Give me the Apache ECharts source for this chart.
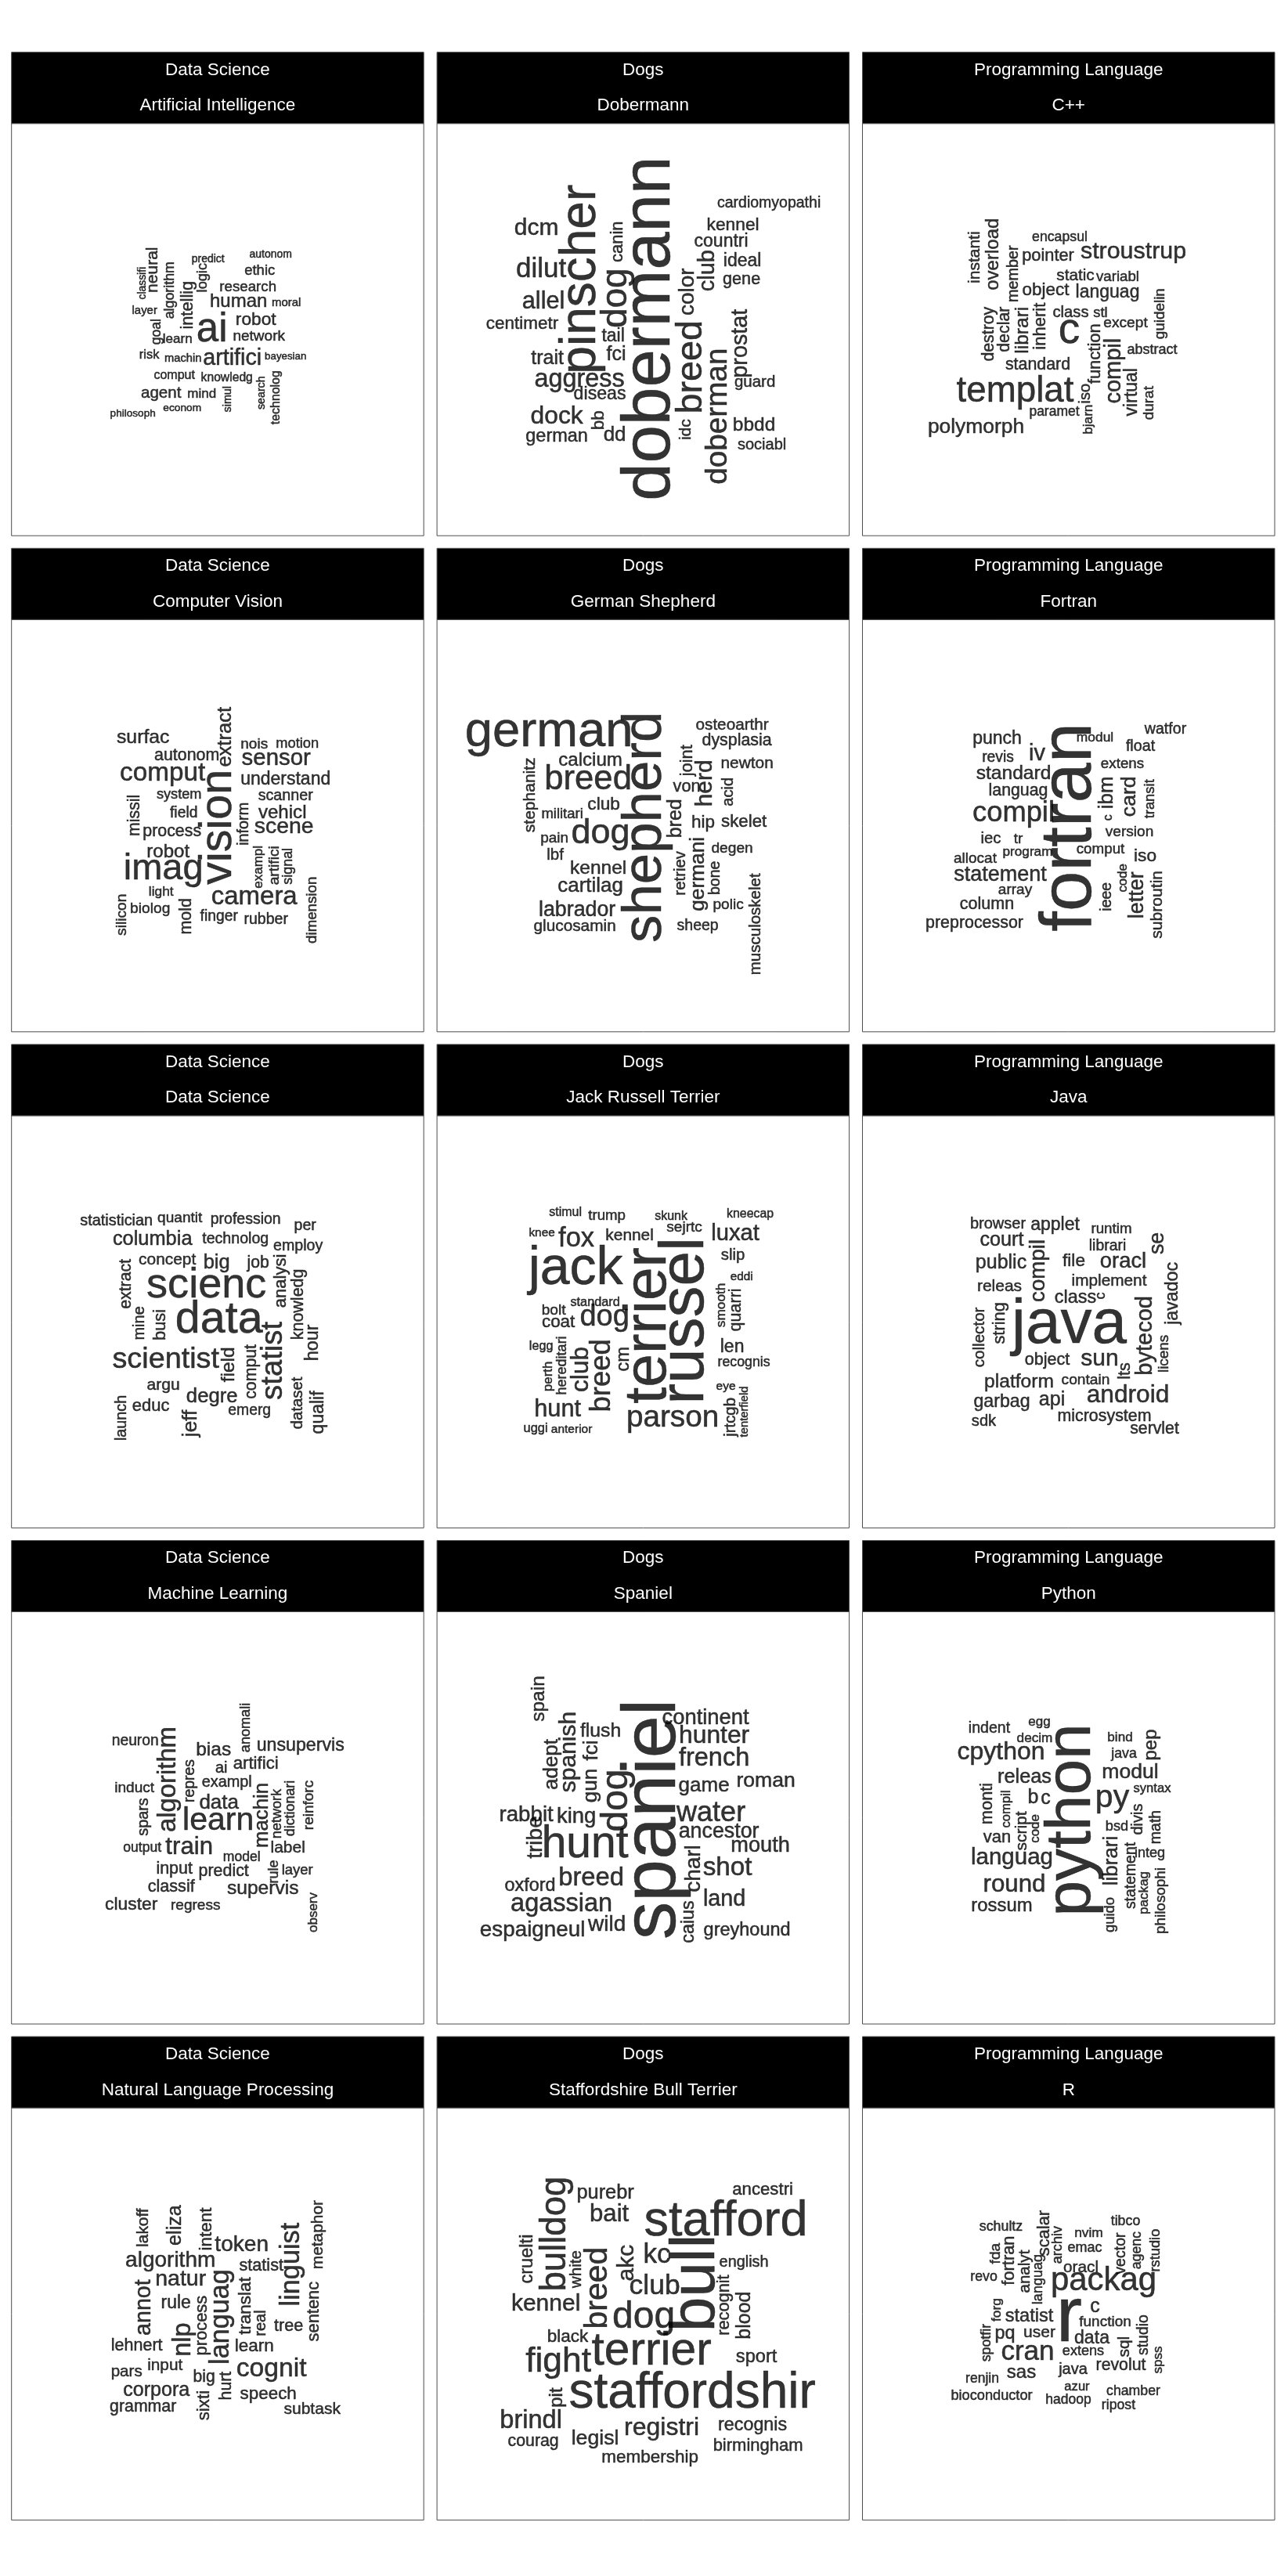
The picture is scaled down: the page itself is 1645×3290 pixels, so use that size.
<!DOCTYPE html>
<html><head><meta charset="utf-8">
<script src="https://cdn.jsdelivr.net/npm/echarts@6.0.0/dist/echarts.min.js"></script>
<style>html,body{margin:0;padding:0;background:#fff}#c{width:1645px;height:3290px}</style>
</head><body><div id="c"></div>
<script>
// Facet labels
const topics = ['Data Science', 'Dogs', 'Programming Language'];
const subtopicsDS = ['Artificial Intelligence', 'Computer Vision', 'Data Science', 'Machine Learning', 'Natural Language Processing'];
const subtopicsDogs = ['Dobermann', 'German Shepherd', 'Jack Russell Terrier', 'Spaniel', 'Staffordshire Bull Terrier'];
const subtopicsPL = ['C++', 'Fortran', 'Java', 'Python', 'R'];

// Words: [term, x, y (panel units 0..526), freq (size), orientation (0 / 90)]
const wordsAI = [
['autonom',331,167,14,0],['predict',251,173,14,0],['ethic',317,188,18.5,0],['research',302,209,18.7,0],
['human',290,228,24,0],['moral',351,229,15,0],['robot',312,251,22.7,0],['network',316,272,19,0],
['ai',256,264,51,0],['artifici',282,300,28.7,0],['bayesian',350,298,13.3,0],['machin',219,300,14.7,0],
['risk',176,296,16.5,0],['learn',212,276,17,0],['goal',185,266,17.6,90],['layer',170,239,14.9,0],
['classifi',167,204,13.9,90],['neural',181,187,21,90],['algorithm',202,213,17.8,90],['intellig',225,232,21.8,90],
['logic',244,197,18.2,90],['comput',208,322,16,0],['knowledg',275,325,15.7,0],['agent',191,345,20.6,0],
['mind',243,346,17,0],['philosoph',155,371,13.6,0],['econom',218,364,13.7,0],['simul',276,352,14.3,90],
['search',319,344,14.2,90],['technolog',338,350,15.9,90]
];
const wordsDobermann = [
['dobermann',273,262,87,90],['pinscher',184,199,64,90],['cardiomyopathi',424,102,19.5,0],['kennel',378,130,22.8,0],
['countri',363,151,23,0],['dcm',127,134,30,0],['canin',231,151,22,90],['ideal',390,176,23,0],
['club',346,188,29,90],['gene',389,199,21.7,0],['dilut',133,187,35,0],['dog',229,223,46,90],
['color',320,215,28,90],['allel',136,228,30.7,0],['centimetr',109,256,22.5,0],['tail',225,272,23,0],
['breed',325,311,46.8,90],['fci',229,295,25,0],['trait',141,300,25,0],['prostat',388,281,28.8,90],
['aggress',182,327,32.4,0],['guard',406,331,20.5,0],['diseas',208,346,23.2,0],['doberman',359,374,38.7,90],
['dock',153,375,31.8,0],['bb',207,379,22.6,90],['idc',318,391,21,90],['dd',227,398,26,0],
['german',153,400,23.5,0],['bbdd',405,386,24.5,0],['sociabl',415,411,20,0]
];
const wordsCpp = [
['instanti',144,171,21,90],['overload',167,167,24,90],['encapsul',252,145,17.7,0],['member',193,192,19.8,90],
['pointer',237,169,21.8,0],['stroustrup',346,164,30.4,0],['static',272,195,20.7,0],['variabl',326,196,18.7,0],
['object',234,213,22.5,0],['languag',313,216,23,0],['destroy',162,269,21.3,90],['declar',182,263,21.4,90],
['librari',205,264,24.5,90],['inherit',227,259,22,90],['class',266,242,20.2,0],['stl',304,242,18.3,0],
['c',264,265,55,0],['except',336,255,19.2,0],['guidelin',380,243,18.9,90],['function',297,294,22,90],
['compil',321,316,29,90],['abstract',370,289,18,0],['standard',224,308,21.4,0],['templat',195,343,45.7,0],
['iso',285,345,20,90],['paramet',245,368,17.5,0],['bjarn',289,378,17.2,90],['virtual',344,343,23,90],
['durat',366,357,19,90],['polymorph',145,388,26.4,0]
];
const wordsCV = [
['surfac',168,151,24.8,0],['extract',273,150,25.5,90],['nois',310,159,19,0],['motion',365,159,18.3,0],
['autonom',224,174,21.4,0],['sensor',338,178,29.4,0],['comput',193,197,33.3,0],['understand',350,204,23,0],
['vision',264,265,57.4,90],['system',214,224,18.2,0],['scanner',350,225,19.7,0],['missil',157,250,21.3,90],
['field',220,247,19.3,0],['inform',297,261,19.8,90],['vehicl',346,247,24.1,0],['scene',348,265,28.4,0],
['process',205,271,21.4,0],['robot',200,297,24.1,0],['exampl',316,316,17,90],['artifici',336,314,19.2,90],
['signal',353,315,17.9,90],['imag',194,319,47,0],['light',191,348,17.3,0],['camera',310,355,33,0],
['silicon',141,377,19.2,90],['biolog',177,369,19.2,0],['mold',223,379,21.5,90],['finger',265,379,19.3,0],
['rubber',325,383,19.6,0],['dimension',384,371,18.7,90]
];
const wordsGS = [
['german',143,144,63.4,0],['shepherd',266,265,70.8,90],['osteoarthr',377,135,20.7,0],['dysplasia',383,155,21.4,0],
['calcium',196,180,24.1,0],['stephanitz',119,224,21,90],['joint',320,180,21.8,90],['herd',343,209,30,90],
['newton',396,184,20.9,0],['breed',193,205,43.7,0],['acid',372,220,20,90],['von',319,214,21.7,0],
['club',213,236,22.7,0],['militari',160,249,18.5,0],['bred',305,254,25,90],['hip',340,259,22.5,0],
['skelet',392,259,22.3,0],['pain',150,279,18.9,0],['dog',209,273,45,0],['germani',334,325,26.3,90],
['degen',377,292,19.2,0],['lbf',151,301,20.5,0],['retriev',311,324,20.4,90],['bone',356,330,19.5,90],
['kennel',206,318,24.5,0],['cartilag',196,341,25.9,0],['musculoskelet',407,389,20.5,90],['polic',372,364,19.1,0],
['labrador',179,371,26.8,0],['glucosamin',176,392,20.8,0],['sheep',333,391,19.5,0]
];
const wordsFortran = [
['fortran',266,265,92.3,90],['watfor',387,140,19.6,0],['modul',297,151,17.4,0],['punch',172,152,23,0],
['float',355,162,19.7,0],['revis',173,176,19.3,0],['iv',223,172,29,0],['extens',332,185,18.8,0],
['standard',193,197,24.6,0],['ibm',312,221,25.9,90],['card',341,226,26.6,90],['transit',367,229,18.4,90],
['languag',199,219,21.3,0],['compil',193,248,36.3,0],['c',314,253,16,90],['version',341,271,19.1,0],
['iec',164,280,20.3,0],['tr',199,280,19,0],['comput',304,294,18.8,0],['program',211,297,17.2,0],
['allocat',144,305,19,0],['iso',361,302,22.7,0],['statement',176,326,27,0],['code',333,330,16.9,90],
['letter',351,352,27,90],['subroutin',377,364,21.1,90],['ieee',312,354,19.4,90],['array',195,345,19,0],
['column',159,364,21.5,0],['preprocessor',143,388,21.4,0]
];
const wordsDS = [
['statistician',134,135,19.9,0],['quantit',215,131,19.1,0],['profession',299,133,19.5,0],['per',375,141,19.6,0],
['columbia',180,158,25.4,0],['technolog',286,158,19.6,0],['employ',366,167,19.6,0],['concept',199,184,20.9,0],
['big',262,188,25.5,0],['job',315,188,21.2,0],['extract',146,215,21.3,90],['analysi',344,211,22,90],
['knowledg',366,241,21.5,90],['scienc',249,217,54.1,0],['data',265,261,57.4,0],['mine',164,265,20,90],
['busi',190,267,21.8,90],['hour',385,290,23.3,90],['statist',335,313,38.3,90],['scientist',197,312,37.8,0],
['field',278,318,24.5,90],['comput',306,327,21.3,90],['argu',194,344,21.1,0],['degre',256,359,25.7,0],
['launch',141,386,19.8,90],['educ',178,371,22,0],['emerg',304,377,19.3,0],['jeff',229,393,26.2,90],
['dataset',366,367,20.3,90],['qualif',392,379,23,90]
];
const wordsJRT = [
['stimul',164,124,16,0],['trump',217,128,18.7,0],['skunk',299,129,16,0],['kneecap',400,126,15.9,0],
['knee',134,150,15.4,0],['fox',178,158,34.5,0],['kennel',246,153,20.9,0],['sejrtc',316,143,19.1,0],
['luxat',381,151,29.2,0],['jack',177,196,68,0],['slip',378,178,20.4,0],['terrier',271,268,76.6,90],
['russel',318,262,80,90],['eddi',389,206,15.3,0],['smooth',363,242,17.3,90],['quarri',382,248,21.5,90],
['standard',202,239,16.3,0],['bolt',149,249,19.2,0],['coat',155,264,22.4,0],['dog',214,258,38,0],
['legg',133,295,16.2,0],['hereditari',160,319,18,90],['perth',142,333,16.8,90],['club',184,324,31.8,90],
['breed',211,332,36.5,90],['cm',238,311,23.8,90],['len',377,296,23,0],['recognis',392,315,17.8,0],
['eye',369,346,15.5,0],['jrtcgb',375,385,20.4,90],['tenterfield',393,378,14.8,90],['hunt',154,376,30.8,0],
['parson',301,386,38.7,0],['uggi',126,400,16.4,0],['anterior',172,401,15.5,0]
];
const wordsJava = [
['browser',173,139,20,0],['applet',246,140,23,0],['runtim',318,145,18.8,0],['court',178,159,25.2,0],
['librari',313,167,19.4,0],['se',377,163,26.8,90],['compil',225,198,27.7,90],['public',177,188,25,0],
['file',270,186,22.7,0],['oracl',333,187,27.4,0],['javadoc',396,227,23.2,90],['implement',315,211,20.8,0],
['releas',175,218,21,0],['class',272,233,23.4,0],['c',305,230,18,90],['bytecod',361,281,29,90],
['collector',150,283,20.6,90],['string',175,265,21.8,90],['java',264,268,80,0],['licens',385,304,18.9,90],
['object',236,312,21.6,0],['sun',303,311,30,0],['lts',336,326,21.7,90],['platform',200,340,24.6,0],
['contain',285,338,19.2,0],['android',339,357,31.7,0],['garbag',178,366,23.2,0],['api',242,363,25,0],
['microsystem',309,384,21.4,0],['sdk',155,391,20.1,0],['servlet',373,400,21.3,0]
];
const wordsML = [
['anomali',299,148,18.1,90],['neuron',158,165,19.3,0],['algorithm',200,214,32.8,90],['unsupervis',369,171,23.2,0],
['bias',258,177,24.5,0],['repres',228,216,19.4,90],['ai',268,200,20,0],['artifici',312,194,22.2,0],
['exampl',275,218,19.9,0],['induct',157,225,19.1,0],['machin',320,260,25.8,90],['network',339,258,18.1,90],
['dictionari',356,251,17.9,90],['reinforc',380,247,19,90],['data',265,244,26,0],['spars',169,262,19.8,90],
['learn',264,267,41,0],['output',167,302,17.6,0],['train',227,301,31.2,0],['label',353,302,21,0],
['model',294,314,17.6,0],['input',208,329,21.5,0],['predict',271,332,21.4,0],['rule',335,332,18,90],
['layer',365,330,18.5,0],['classif',204,352,21.6,0],['supervis',321,354,24.6,0],['cluster',153,374,22.9,0],
['regress',235,375,19,0],['observ',386,384,17,90]
];
const wordsSpaniel = [
['spaniel',277,265,97,90],['spain',130,111,24.5,90],['adept',147,195,26,90],['spanish',169,179,30,90],
['flush',209,153,24.8,0],['continent',343,136,27.4,0],['hunter',354,159,31.8,0],['french',354,188,32.5,0],
['game',341,222,26,0],['roman',420,216,26.6,0],['water',350,258,36,0],['ancestor',360,281,26.8,0],
['mouth',413,299,27.2,0],['shot',371,327,33.3,0],['charl',328,328,28,90],['land',367,368,28.8,0],
['caius',321,396,23.4,90],['greyhound',396,407,23.5,0],['rabbit',114,260,27.7,0],['king',178,262,27.5,0],
['fci',198,177,26,90],['gun',197,222,26,90],['dog',230,241,48,90],['tribe',126,288,28,90],
['hunt',189,298,57,0],['oxford',119,350,23.4,0],['breed',197,340,32.8,0],['agassian',159,374,32.5,0],
['espaigneul',122,407,27.8,0],['wild',217,400,28,0]
];
const wordsPython = [
['egg',226,141,17,0],['indent',162,149,19.6,0],['decim',220,162,17.2,0],['bind',329,161,17.1,0],
['pep',369,170,24,90],['python',268,266,82,90],['cpython',177,180,32,0],['java',334,182,17.8,0],
['modul',342,205,26.6,0],['releas',207,212,25.3,0],['monti',159,245,21.8,90],['syntax',370,226,16.6,0],
['b',218,238,25,0],['c',234,239,25,0],['py',319,238,41,0],['compil',184,252,16.7,90],
['divis',352,265,20,90],['math',375,275,19.5,90],['script',204,280,21,90],['code',221,277,16.9,90],
['bsd',325,274,18.2,0],['van',172,288,21.9,0],['librari',318,318,25.9,90],['integ',367,308,18.1,0],
['statement',343,337,19.4,90],['languag',191,314,29.5,0],['packag',360,359,17.1,90],['philosophi',381,369,18.9,90],
['round',194,349,31.3,0],['guido',316,387,18.4,90],['rossum',178,376,23.9,0]
];
const wordsNLP = [
['lakoff',169,153,20.9,90],['eliza',209,150,25.1,90],['intent',249,155,22.5,90],['metaphor',392,162,20.9,90],
['token',294,175,28.1,0],['linguist',358,200,34.3,90],['algorithm',203,195,28,0],['statist',319,202,21.7,0],
['natur',216,219,28.5,0],['annot',169,255,28.6,90],['languag',268,267,34.2,90],['translat',299,253,22.4,90],
['rule',210,250,23,0],['process',243,278,21.9,90],['sentenc',386,260,21.9,90],['real',319,275,20,90],
['tree',354,279,21.7,0],['nlp',219,296,32.5,90],['lehnert',160,304,21.5,0],['learn',310,305,22.5,0],
['input',196,329,20.8,0],['pars',147,337,20.6,0],['cognit',332,334,33.7,0],['big',246,344,21.2,0],
['hurt',274,355,21.3,90],['corpora',185,361,25.1,0],['sixti',246,380,22.3,90],['speech',328,366,22.4,0],
['grammar',168,382,21.3,0],['subtask',384,385,21,0]
];
const wordsSBT = [
['ancestri',416,105,22.2,0],['purebr',215,109,25.4,0],['bulldog',151,161,45.5,90],['bait',220,136,31.2,0],
['stafford',369,146,63,0],['cruelti',115,193,23.6,90],['white',178,206,20.7,90],['breed',206,230,41,90],
['akc',243,198,30,90],['kc',281,188,35,0],['bull',332,224,80,90],['english',392,197,19.9,0],
['club',278,228,35.5,0],['kennel',139,251,30,0],['dog',264,268,48,0],['recognit',367,252,21.8,90],
['blood',393,265,25,90],['black',167,293,22.5,0],['terrier',274,312,58.7,0],['fight',155,325,44.4,0],
['sport',408,318,23.6,0],['pit',153,370,24,90],['staffordshir',326,365,64,0],['brindl',120,400,32.6,0],
['registri',287,409,32,0],['recognis',403,405,23.3,0],['courag',123,426,21.3,0],['legisl',202,423,26.7,0],
['birmingham',410,432,22,0],['membership',272,447,22.5,0]
];
const wordsR = [
['scalar',232,160,21.9,90],['languag',225,219,18,90],['schultz',177,152,17.8,0],['tibco',336,145,17.8,0],
['archiv',249,175,18.1,90],['nvim',289,160,17.4,0],['fda',170,186,19.2,90],['fortran',187,195,21.9,90],
['analyt',208,209,20.6,90],['emac',284,179,18,0],['vector',330,186,19.6,90],['agenc',351,182,17.7,90],
['rstudio',374,182,18.3,90],['oracl',279,204,20.8,0],['revo',155,216,17.8,0],['packag',308,221,41.9,0],
['r',264,270,100,0],['forg',172,258,17.4,90],['c',297,254,25,0],['statist',213,266,23.6,0],
['function',310,274,19,0],['studio',359,290,19.4,90],['spotfir',159,300,17.8,90],['pq',182,288,23.4,0],
['user',226,287,21,0],['data',293,295,23.1,0],['sql',335,305,20.9,90],['cran',211,312,35.1,0],
['extens',282,311,18.1,0],['spss',378,322,17,90],['java',269,334,20,0],['revolut',330,329,21.3,0],
['sas',203,338,24,0],['renjin',153,346,17.5,0],['azur',274,356,16.6,0],['chamber',346,362,17.7,0],
['bioconductor',165,368,18.2,0],['hadoop',263,373,17.5,0],['ripost',327,380,17.7,0]
];

const columns = [
  { topic: topics[0], subs: subtopicsDS, words: [wordsAI, wordsCV, wordsDS, wordsML, wordsNLP] },
  { topic: topics[1], subs: subtopicsDogs, words: [wordsDobermann, wordsGS, wordsJRT, wordsSpaniel, wordsSBT] },
  { topic: topics[2], subs: subtopicsPL, words: [wordsCpp, wordsFortran, wordsJava, wordsPython, wordsR] }
];

// layout
const X0 = 14.7, COLSTEP = 543.4, Y0 = 66.7, ROWSTEP = 633.6, PW = 526.5, STRIP = 45.5;
const FONT = '"Liberation Sans", Arial, Helvetica, sans-serif';

const grids = [], xAxes = [], yAxes = [], series = [], graphics = [];
let idx = 0;
for (let r = 0; r < 5; r++) {
  for (let c = 0; c < 3; c++) {
    const col = columns[c];
    const left = X0 + c * COLSTEP;
    const top = Y0 + r * ROWSTEP;
    const bodyTop = top + 2 * STRIP;
    grids.push({ left: left, top: bodyTop, width: PW, height: PW, show: true, borderColor: '#4d4d4d', borderWidth: 1, backgroundColor: '#fff', containLabel: false });
    xAxes.push({ type: 'value', gridIndex: idx, min: 0, max: PW, show: false });
    yAxes.push({ type: 'value', gridIndex: idx, min: 0, max: PW, inverse: true, show: false });
    series.push({
      type: 'scatter', xAxisIndex: idx, yAxisIndex: idx, symbolSize: 1, silent: true, animation: false,
      itemStyle: { color: 'rgba(0,0,0,0)' },
      label: { show: true, position: 'inside', formatter: '{b}', color: '#000', fontFamily: FONT, align: 'center', verticalAlign: 'middle', textBorderColor: '#000', textBorderWidth: 0.5 },
      emphasis: { disabled: true },
      data: col.words[r].map(w => ({ name: w[0], value: [w[1], w[2]], label: { fontSize: w[3], rotate: w[4] } }))
    });
    graphics.push({ type: 'rect', shape: { x: left, y: top, width: PW, height: 2 * STRIP }, style: { fill: '#000', stroke: '#4d4d4d', lineWidth: 1 }, silent: true });
    graphics.push({ type: 'text', x: left + PW / 2, y: top + STRIP / 2, style: { text: col.topic, fill: '#fff', fontSize: 22.5, fontFamily: FONT, align: 'center', verticalAlign: 'middle' }, silent: true });
    graphics.push({ type: 'text', x: left + PW / 2, y: top + STRIP * 1.5, style: { text: col.subs[r], fill: '#fff', fontSize: 22.5, fontFamily: FONT, align: 'center', verticalAlign: 'middle' }, silent: true });
    idx++;
  }
}

const chart = echarts.init(document.getElementById('c'), null, { renderer: 'canvas' });
chart.setOption({
  backgroundColor: '#fff',
  animation: false,
  grid: grids, xAxis: xAxes, yAxis: yAxes, series: series,
  graphic: { elements: graphics }
});
</script>
</body></html>
